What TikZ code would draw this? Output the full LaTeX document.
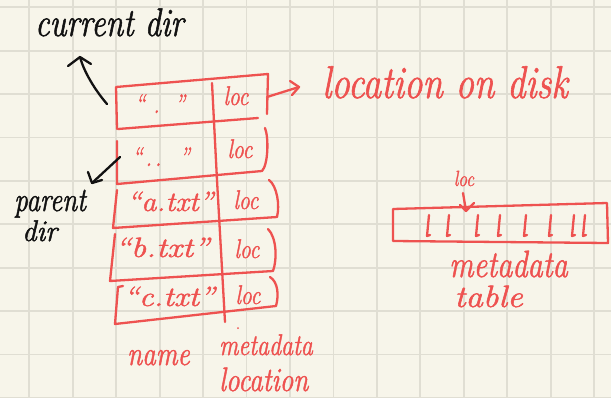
\documentclass[tikz,border=0pt]{standalone}
\usepackage{fontspec}
\newfontfamily\handfont{Latin Modern Roman}[FakeBold=1.3, FakeStretch=0.8]
\definecolor{paper}{RGB}{247,245,234}
\definecolor{gridline}{RGB}{224,222,211}
\definecolor{pen}{RGB}{238,82,80}
\definecolor{ink}{RGB}{18,18,18}
\newcommand{\fsz}[1]{\fontsize{#1}{#1}\selectfont\handfont\itshape}
\tikzset{
  redpen/.style={draw=pen, line width=2.3pt, line cap=round, line join=round},
  inkpen/.style={draw=ink, line width=2.3pt, line cap=round, line join=round},
  gridpen/.style={draw=gridline, line width=1.8pt},
  redtext/.style={inner sep=0pt, text=pen},
  inktext/.style={inner sep=0pt, text=ink},
}
\begin{document}
\begin{tikzpicture}[x=1pt,y=-1pt]
% paper and squared grid
\fill[paper] (0,0) rectangle (611,397);
\useasboundingbox (0,0) rectangle (611,397);
\foreach \k in {0,...,13} \draw[gridpen] ({29.3+43.45*\k},0) -- ({29.3+43.45*\k},397);
\foreach \k in {0,...,9} \draw[gridpen] (0,{7.3+43.4*\k}) -- (611,{7.3+43.4*\k});

% ---- directory table ----
% row ".": top, right and left edges, then its bottom
\draw[redpen] (117,129) -- (116,87) -- (268,74) -- (267,114);
\draw[redpen] (118,129) -- (258,118);
% row ".."
\draw[redpen] (117,141) -- (117,184) -- (262,171)
  .. controls (268,165) and (269,138) .. (265,128);
% row "a.txt"
\draw[redpen] (117,190) -- (113,228) -- (277,217)
  .. controls (280,205) and (277,186) .. (269,180);
% row "b.txt"
\draw[redpen] (115,234) -- (110,281) -- (273,271)
  .. controls (277,260) and (277,238) .. (268,229);
% row "c.txt"
\draw[redpen] (123,286) -- (118,287) -- (115,324) -- (276,306)
  .. controls (279,295) and (278,282) .. (270,277);
% column divider
\draw[redpen] (212,83) -- (217,180) -- (225,322);
\fill[pen] (238,328) circle (1pt);

% names
\node[redtext, anchor=base, font=\fsz{27}] (n1) at (160,113) {“\hskip8pt.\hskip15pt”};
\node[redtext, anchor=base, font=\fsz{27}] (n2) at (161,166) {“\hskip3pt.\hskip3pt.\hskip18pt”};
\node[redtext, anchor=base, font=\fsz{28}] (n3) at (170,211) {\scalebox{1.35}[1]{“a.txt”}};
\node[redtext, anchor=base, font=\fsz{28}] (n4) at (162,257) {\scalebox{1.5}[1]{“b.txt”}};
\node[redtext, anchor=base, font=\fsz{28}] (n5) at (169,306) {\scalebox{1.45}[1]{“c.txt”}};
% metadata locations
\node[redtext, anchor=base, font=\fsz{27}] (l1) at (236,105) {loc};
\node[redtext, anchor=base, font=\fsz{27}] (l2) at (240,158) {loc};
\node[redtext, anchor=base, font=\fsz{27}] (l3) at (246,209) {loc};
\node[redtext, anchor=base, font=\fsz{27}] (l4) at (247,258) {loc};
\node[redtext, anchor=base, font=\fsz{27}] (l5) at (248,304) {loc};

% column captions
\node[redtext, anchor=base west, font=\fsz{34}] (cname) at (127,365) {name};
\node[redtext, anchor=base west, font=\fsz{30}] (cmeta) at (219,355) {metadata};
\node[redtext, anchor=base west, font=\fsz{34}] (cloc) at (219,391) {location};

% pointer to the data on disk
\node[redtext, anchor=base west, font=\fsz{46}] (disk) at (322,98) {location on disk};
\coordinate (ptrA) at (267,97);
\coordinate (ptrB) at (299,87);
\draw[redpen] (ptrA) -- (ptrB);
\draw[redpen] (290,81) -- (ptrB) -- (292,95);

% ---- metadata table ----
\coordinate (mt1) at (393,209);
\coordinate (mt2) at (607,203);
\coordinate (mt3) at (608,243);
\coordinate (mt4) at (393,241);
\draw[redpen] (mt4) -- (mt1) -- (mt2) -- (mt3) -- cycle;
\foreach \x in {428,448,477,499,525,550,573,584}
  \draw[redpen] (\x+1,215) -- (\x-1,236) -- (\x+2,235);
\node[redtext, anchor=base, font=\fsz{22}] (tloc) at (464,186) {loc};
\coordinate (tlocend) at (466,211);
\draw[redpen] (463,193) -- (tlocend);
\draw[redpen] (460,205) -- (tlocend) -- (474,203);
\node[redtext, anchor=base west, font=\fsz{38}] (tmeta) at (449,277) {metadata};
\node[redtext, anchor=base west, font=\fsz{31}] (ttable) at (454,307) {\scalebox{1.4}[1]{table}};

% ---- black annotations ----
\node[inktext, anchor=base west, font=\fsz{40}] (cur) at (35,36) {current dir};
\coordinate (curA) at (107,104);
\coordinate (curB) at (80,57);
\draw[inkpen] (curA) .. controls (95,90) and (84,72) .. (curB);
\draw[inkpen] (68,66) -- (curB) -- (91,64);

\node[inktext, anchor=base west, font=\fsz{34}] (par1) at (14,211) {parent};
\node[inktext, anchor=base west, font=\fsz{30}] (par2) at (22,241) {\scalebox{1.2}[1]{dir}};
\coordinate (parA) at (120,157);
\coordinate (parB) at (92,183);
\draw[inkpen] (parA) -- (parB);
\draw[inkpen] (88,172) -- (parB) -- (102,180);
\end{tikzpicture}
\end{document}
